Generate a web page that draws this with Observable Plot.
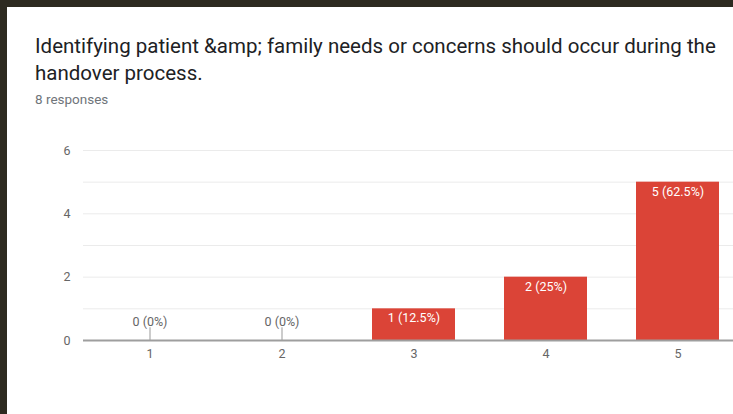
<!DOCTYPE html>
<html>
<head>
<meta charset="utf-8">
<script src="https://cdn.jsdelivr.net/npm/d3@7"></script>
<script src="https://cdn.jsdelivr.net/npm/@observablehq/plot@0.6"></script>
<style>
  html, body { margin: 0; padding: 0; width: 733px; height: 414px; overflow: hidden; background: #2d2a20; font-family: Roboto, "Noto Sans", sans-serif; }
  #card { position: absolute; left: 7px; top: 7px; width: 740px; height: 420px; background: #fff; }
  #title { position: absolute; left: 35px; top: 32.5px; width: 700px; font-size: 20.5px; line-height: 27px; color: #202124; }
  #sub { position: absolute; left: 35px; top: 90.5px; font-size: 13.5px; line-height: 16px; color: #70757a; }
  #chart { position: absolute; left: 0; top: 130px; width: 744px; }
  #chart svg { max-width: none; overflow: visible; }
</style>
</head>
<body>
<div id="card"></div>
<div id="title">Identifying patient &amp;amp; family needs or concerns should occur during the handover process.</div>
<div id="sub">8 responses</div>
<div id="chart"></div>
<script>
const categories = ["1", "2", "3", "4", "5"];
const counts = [0, 0, 1, 2, 5];
const barLabels = ["0 (0%)", "0 (0%)", "1 (12.5%)", "2 (25%)", "5 (62.5%)"];
const yTicks = [0, 2, 4, 6];
const gridValues = [1, 2, 3, 4, 5, 6];

const data = categories.map((c, i) => ({cat: c, value: counts[i], label: barLabels[i]}));
const zeroData = data.filter(d => d.value === 0);
const nonZero = data.filter(d => d.value > 0);

const chart = Plot.plot({
  width: 744,
  height: 240,
  marginLeft: 83,
  marginRight: 0,
  marginTop: 20,
  marginBottom: 30,
  style: {fontFamily: "Roboto, sans-serif", background: "transparent", overflow: "visible"},
  x: {domain: categories, paddingInner: 0.375, paddingOuter: 0.1875, label: null},
  y: {domain: [0, 6], label: null},
  marks: [
    Plot.ruleY(gridValues, {stroke: "#ebebeb", strokeWidth: 1}),
    Plot.barY(nonZero, {x: "cat", y: "value", fill: "#db4437"}),
    Plot.ruleX(zeroData, {x: "cat", y1: 0, y2: 0.4, stroke: "#aaa", strokeWidth: 1.2}),
    Plot.text(zeroData, {x: "cat", y: "value", text: "label", dy: -19, fill: "#666", fontSize: 12.5}),
    Plot.text(nonZero, {x: "cat", y: "value", text: "label", dy: 9.5, fill: "#fff", fontSize: 12.5}),
    Plot.ruleY([0], {stroke: "#9e9e9e", strokeWidth: 2}),
    Plot.axisY({ticks: yTicks, tickFormat: "d", tickSize: 0, tickPadding: 13, fontSize: 12.5, color: "#666", label: null}),
    Plot.axisX({tickSize: 0, tickPadding: 9, fontSize: 12.5, color: "#666", label: null})
  ]
});
document.getElementById("chart").appendChild(chart);
</script>
</body>
</html>
